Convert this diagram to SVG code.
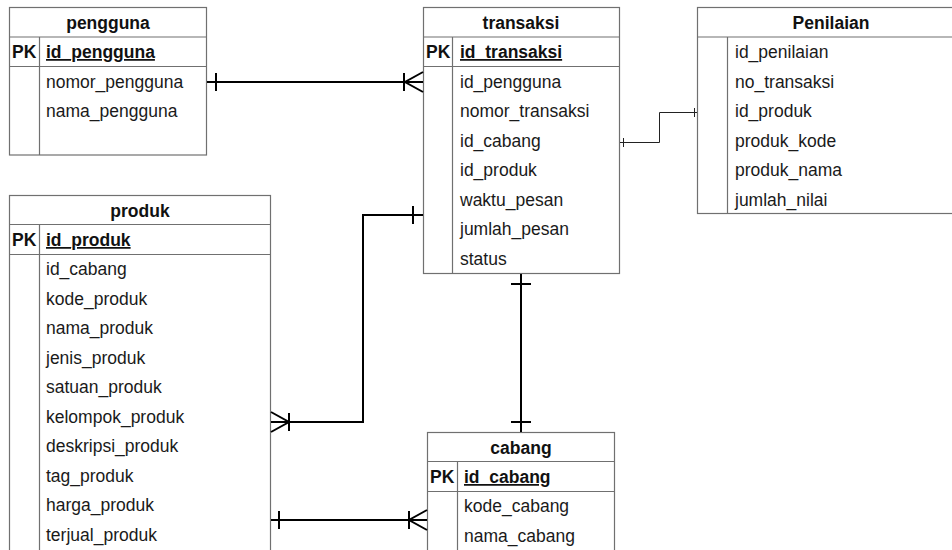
<svg xmlns="http://www.w3.org/2000/svg" width="952" height="550" viewBox="0 0 952 550">
<style>
  .box { fill: #ffffff; stroke: #707070; stroke-width: 1.2; }
  .ln { stroke: #707070; stroke-width: 1.2; fill: none; }
  .t { font-family: "Liberation Sans", Arial, sans-serif; font-size: 17.5px; fill: #1a1a1a; }
  .h { font-family: "Liberation Sans", Arial, sans-serif; font-size: 17.5px; font-weight: bold; fill: #111; text-anchor: middle; }
  .pk { font-family: "Liberation Sans", Arial, sans-serif; font-size: 17.5px; font-weight: bold; fill: #111; }
  .pkf { font-family: "Liberation Sans", Arial, sans-serif; font-size: 17.5px; font-weight: bold; fill: #111; text-decoration: underline; }
  .c { stroke: #000; stroke-width: 2; fill: none; }
  .cthin { stroke: #222; stroke-width: 1; fill: none; }
</style>
<rect width="952" height="550" fill="#ffffff"/>

<g id="pengguna">
  <rect class="box" x="9.5" y="7.5" width="197" height="147.5"/>
  <line class="ln" x1="9.5" y1="37" x2="206.5" y2="37"/>
  <line class="ln" x1="9.5" y1="66.5" x2="206.5" y2="66.5"/>
  <line class="ln" x1="39.5" y1="37" x2="39.5" y2="155"/>
  <text class="h" x="108" y="28.5">pengguna</text>
  <text class="pk" x="12" y="58">PK</text>
  <text class="pkf" x="46" y="58">id_pengguna</text>
  <text class="t" x="46" y="88">nomor_pengguna</text>
  <text class="t" x="46" y="117">nama_pengguna</text>
</g>

<g id="transaksi">
  <rect class="box" x="423.5" y="7.5" width="196" height="266"/>
  <line class="ln" x1="423.5" y1="37" x2="619.5" y2="37"/>
  <line class="ln" x1="423.5" y1="66.5" x2="619.5" y2="66.5"/>
  <line class="ln" x1="452.5" y1="37" x2="452.5" y2="273.5"/>
  <text class="h" x="521" y="28.5">transaksi</text>
  <text class="pk" x="426" y="58">PK</text>
  <text class="pkf" x="460" y="58">id_transaksi</text>
  <text class="t" x="460" y="88">id_pengguna</text>
  <text class="t" x="460" y="117">nomor_transaksi</text>
  <text class="t" x="460" y="147">id_cabang</text>
  <text class="t" x="460" y="176">id_produk</text>
  <text class="t" x="460" y="206">waktu_pesan</text>
  <text class="t" x="460" y="235">jumlah_pesan</text>
  <text class="t" x="460" y="265">status</text>
</g>

<g id="penilaian">
  <rect class="box" x="697.5" y="7.5" width="268" height="206"/>
  <line class="ln" x1="697.5" y1="37" x2="965" y2="37"/>
  <line class="ln" x1="727.5" y1="37" x2="727.5" y2="213.5"/>
  <text class="h" x="831" y="28.5">Penilaian</text>
  <text class="t" x="735" y="58">id_penilaian</text>
  <text class="t" x="735" y="88">no_transaksi</text>
  <text class="t" x="735" y="117">id_produk</text>
  <text class="t" x="735" y="147">produk_kode</text>
  <text class="t" x="735" y="176">produk_nama</text>
  <text class="t" x="735" y="206">jumlah_nilai</text>
</g>

<g id="produk">
  <rect class="box" x="9.5" y="195.5" width="261" height="390"/>
  <line class="ln" x1="9.5" y1="224.5" x2="270.5" y2="224.5"/>
  <line class="ln" x1="9.5" y1="254.5" x2="270.5" y2="254.5"/>
  <line class="ln" x1="39.5" y1="224.5" x2="39.5" y2="585"/>
  <text class="h" x="140" y="216.5">produk</text>
  <text class="pk" x="12" y="246">PK</text>
  <text class="pkf" x="46" y="246">id_produk</text>
  <text class="t" x="46" y="275">id_cabang</text>
  <text class="t" x="46" y="305">kode_produk</text>
  <text class="t" x="46" y="334">nama_produk</text>
  <text class="t" x="46" y="364">jenis_produk</text>
  <text class="t" x="46" y="393">satuan_produk</text>
  <text class="t" x="46" y="423">kelompok_produk</text>
  <text class="t" x="46" y="452">deskripsi_produk</text>
  <text class="t" x="46" y="482">tag_produk</text>
  <text class="t" x="46" y="511">harga_produk</text>
  <text class="t" x="46" y="541">terjual_produk</text>
</g>

<g id="cabang">
  <rect class="box" x="427.5" y="432.5" width="187" height="150"/>
  <line class="ln" x1="427.5" y1="461.5" x2="614.5" y2="461.5"/>
  <line class="ln" x1="427.5" y1="491.5" x2="614.5" y2="491.5"/>
  <line class="ln" x1="457.5" y1="461.5" x2="457.5" y2="582"/>
  <text class="h" x="521" y="453.5">cabang</text>
  <text class="pk" x="430" y="483">PK</text>
  <text class="pkf" x="464" y="483">id_cabang</text>
  <text class="t" x="464" y="512">kode_cabang</text>
  <text class="t" x="464" y="542">nama_cabang</text>
</g>

<g id="connectors">
  <!-- pengguna - transaksi -->
  <path class="c" d="M207,82 H423"/>
  <path class="c" d="M216,73 V91"/>
  <path class="c" d="M404,73 V91"/>
  <path class="c" d="M423,72 L405,82 L423,92"/>
  <!-- transaksi - Penilaian -->
  <path class="cthin" d="M620,142.5 H659.5 V112.5 H697"/>
  <path class="cthin" d="M623.5,138 V147"/>
  <path class="cthin" d="M694.5,108 V117"/>
  <!-- produk - transaksi -->
  <path class="c" d="M271,422 H363 V215 H423"/>
  <path class="c" d="M413,206 V224"/>
  <path class="c" d="M289,413 V431"/>
  <path class="c" d="M271,412 L289,422 L271,432"/>
  <!-- transaksi - cabang -->
  <path class="c" d="M521,274 V432"/>
  <path class="c" d="M511,284 H531"/>
  <path class="c" d="M511,422 H531"/>
  <!-- produk - cabang -->
  <path class="c" d="M271,520 H427"/>
  <path class="c" d="M279,511 V529"/>
  <path class="c" d="M409,511 V529"/>
  <path class="c" d="M427,510 L409,520 L427,530"/>
</g>
</svg>
